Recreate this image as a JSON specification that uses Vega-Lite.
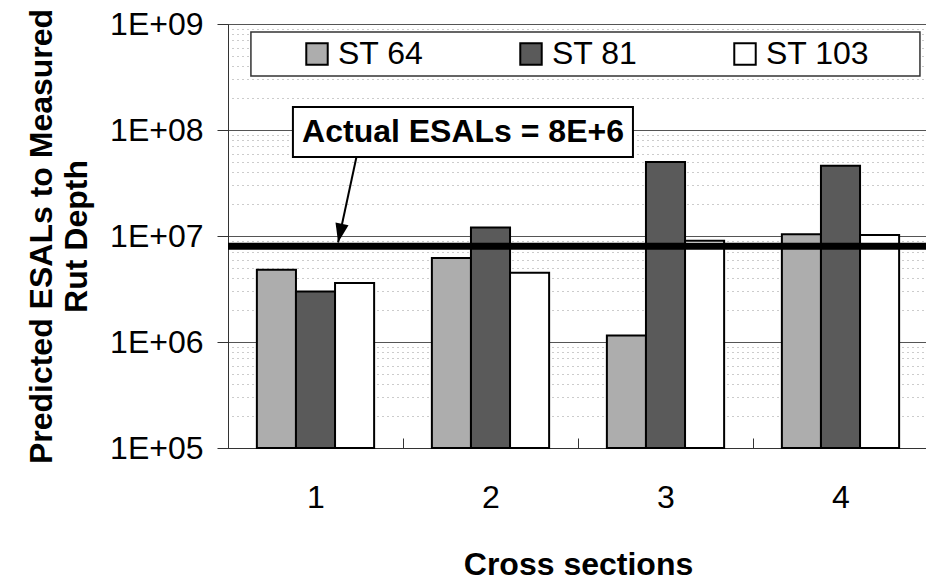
{
  "$schema": "https://vega.github.io/schema/vega-lite/v6.json",
  "width": 700,
  "height": 424,
  "autosize": "none",
  "padding": {"left": 228, "top": 24, "right": 0, "bottom": 133},
  "background": "white",
  "config": {
    "font": "Liberation Sans",
    "view": {"stroke": "#333333", "strokeWidth": 1}
  },
  "datasets": {
    "esals": [
      {"section": "1", "series": "ST 64", "esal": 4800000},
      {"section": "1", "series": "ST 81", "esal": 3000000},
      {"section": "1", "series": "ST 103", "esal": 3600000},
      {"section": "2", "series": "ST 64", "esal": 6200000},
      {"section": "2", "series": "ST 81", "esal": 12000000},
      {"section": "2", "series": "ST 103", "esal": 4500000},
      {"section": "3", "series": "ST 64", "esal": 1150000},
      {"section": "3", "series": "ST 81", "esal": 50000000},
      {"section": "3", "series": "ST 103", "esal": 9000000},
      {"section": "4", "series": "ST 64", "esal": 10400000},
      {"section": "4", "series": "ST 81", "esal": 46000000},
      {"section": "4", "series": "ST 103", "esal": 10200000}
    ],
    "actual": [{"esal": 8000000}],
    "legendBox": [{"x": 0.631, "x2": 4.454, "y": 323000000, "y2": 841000000}],
    "callout": [{"x": 0.871, "x2": 2.814, "y": 55600000, "y2": 165000000, "cx": 1.843, "cy": 96000000, "label": "Actual ESALs = 8E+6"}],
    "arrow": [{"x": 1.234, "y": 55600000, "x2": 1.129, "y2": 8690000}]
  },
  "layer": [
    {
      "data": {"name": "esals"},
      "mark": {"type": "bar", "stroke": "black", "strokeWidth": 2},
      "encoding": {
        "x": {
          "field": "section",
          "type": "nominal",
          "scale": {"paddingInner": 0.33, "paddingOuter": 0.165},
          "axis": {
            "title": "Cross sections",
            "titleFontSize": 32,
            "titleFontWeight": "bold",
            "titleColor": "black",
            "titlePadding": 36,
            "labelAngle": 0,
            "labelFontSize": 32,
            "labelColor": "black",
            "labelPadding": 44,
            "tickOffset": 87.5,
            "labelOffset": -87.5,
            "tickSize": -10,
            "tickColor": "#333333",
            "domainColor": "#333333",
            "grid": false
          }
        },
        "xOffset": {
          "field": "series",
          "type": "nominal",
          "sort": ["ST 64", "ST 81", "ST 103"],
          "scale": {"paddingInner": 0, "paddingOuter": 0}
        },
        "y": {
          "field": "esal",
          "type": "quantitative",
          "scale": {"type": "log", "domain": [100000, 1000000000], "nice": false},
          "axis": {
            "title": ["Predicted ESALs to Measured", "Rut Depth"],
            "titleFontSize": 32,
            "titleFontWeight": "bold",
            "titleColor": "black",
            "titleLineHeight": 35,
            "titlePadding": 16,
            "values": [100000, 1000000, 10000000, 100000000, 1000000000],
            "labelExpr": "'1E+' + (round(log(datum.value) / LN10) < 10 ? '0' : '') + round(log(datum.value) / LN10)",
            "labelFontSize": 32,
            "labelColor": "black",
            "labelPadding": 14,
            "tickSize": 11,
            "tickColor": "#333333",
            "domainColor": "#333333",
            "grid": true,
            "gridColor": "#555555",
            "gridWidth": 1
          }
        },
        "y2": {"datum": 100000},
        "color": {
          "field": "series",
          "type": "nominal",
          "scale": {"domain": ["ST 64", "ST 81", "ST 103"], "range": ["#adadad", "#5a5a5a", "#ffffff"]},
          "legend": {
            "title": null,
            "orient": "none",
            "legendX": 73,
            "legendY": 14,
            "direction": "horizontal",
            "padding": 0,
            "symbolType": "square",
            "symbolSize": 460,
            "symbolStrokeColor": "black",
            "symbolStrokeWidth": 2,
            "symbolOpacity": 1,
            "labelFontSize": 32,
            "labelColor": "black",
            "labelOffset": 5,
            "columnPadding": 91
          }
        }
      }
    },
    {
      "data": {"name": "actual"},
      "mark": {"type": "rule", "color": "black", "strokeWidth": 7},
      "encoding": {
        "y": {
          "field": "esal",
          "type": "quantitative",
          "axis": {
            "orient": "right",
            "title": null,
            "labels": false,
            "ticks": false,
            "domain": false,
            "grid": true,
            "gridColor": "#999999",
            "gridDash": [1, 4],
            "gridWidth": 1,
            "values": [200000, 300000, 400000, 500000, 600000, 700000, 800000, 900000,
                       2000000, 3000000, 4000000, 5000000, 6000000, 7000000, 8000000, 9000000,
                       20000000, 30000000, 40000000, 50000000, 60000000, 70000000, 80000000, 90000000,
                       200000000, 300000000, 400000000, 500000000, 600000000, 700000000, 800000000, 900000000]
          }
        }
      }
    },
    {
      "data": {"name": "legendBox"},
      "mark": {"type": "rect", "fill": "white", "stroke": "#333333", "strokeWidth": 1.5},
      "encoding": {
        "x": {"field": "x", "type": "quantitative", "scale": {"domain": [0.5, 4.5], "nice": false, "zero": false}, "axis": null},
        "x2": {"field": "x2"},
        "y": {"field": "y", "type": "quantitative", "axis": null},
        "y2": {"field": "y2"}
      }
    },
    {
      "data": {"name": "callout"},
      "mark": {"type": "rect", "fill": "white", "stroke": "black", "strokeWidth": 2},
      "encoding": {
        "x": {"field": "x", "type": "quantitative", "scale": {"domain": [0.5, 4.5], "nice": false, "zero": false}, "axis": null},
        "x2": {"field": "x2"},
        "y": {"field": "y", "type": "quantitative", "axis": null},
        "y2": {"field": "y2"}
      }
    },
    {
      "data": {"name": "callout"},
      "mark": {"type": "text", "fontSize": 32, "fontWeight": "bold", "color": "black", "align": "center", "baseline": "middle"},
      "encoding": {
        "x": {"field": "cx", "type": "quantitative", "scale": {"domain": [0.5, 4.5], "nice": false, "zero": false}, "axis": null},
        "y": {"field": "cy", "type": "quantitative", "axis": null},
        "text": {"field": "label"}
      }
    },
    {
      "data": {"name": "arrow"},
      "mark": {"type": "rule", "color": "black", "strokeWidth": 2},
      "encoding": {
        "x": {"field": "x", "type": "quantitative", "scale": {"domain": [0.5, 4.5], "nice": false, "zero": false}, "axis": null},
        "x2": {"field": "x2"},
        "y": {"field": "y", "type": "quantitative", "axis": null},
        "y2": {"field": "y2"}
      }
    },
    {
      "data": {"name": "arrow"},
      "mark": {"type": "point", "shape": "M0,0L-0.35,-1L0.35,-1Z", "size": 1444, "angle": 12, "filled": true, "color": "black", "opacity": 1},
      "encoding": {
        "x": {"field": "x2", "type": "quantitative", "scale": {"domain": [0.5, 4.5], "nice": false, "zero": false}, "axis": null},
        "y": {"field": "y2", "type": "quantitative", "axis": null}
      }
    }
  ],
  "resolve": {"scale": {"x": "independent"}, "axis": {"y": "independent"}}
}
